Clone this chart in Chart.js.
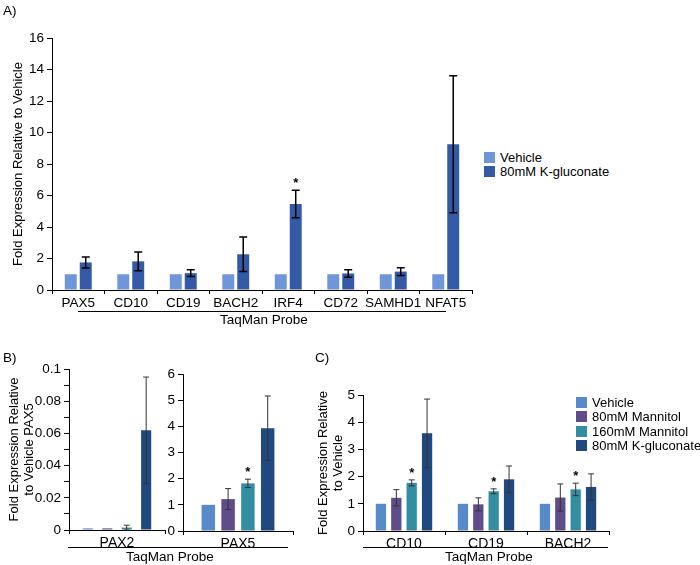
<!DOCTYPE html>
<html>
<head>
<meta charset="utf-8">
<script src="https://cdn.jsdelivr.net/npm/chart.js@4"></script>
<style>
  body { margin:0; background:#fff; font-family:'Liberation Sans', Arial, sans-serif; color:#000; }
  #wrap { position:relative; width:700px; height:565px; overflow:hidden; }
  canvas { position:absolute; }
  .txt { position:absolute; font-size:13.5px; line-height:14px; white-space:nowrap; }
  .rule { position:absolute; height:0; border-top:1px solid #000; }
  .leg { position:absolute; font-size:13px; white-space:nowrap; }
  .leg div { display:flex; align-items:center; height:14.5px; }
  .leg span.sw { display:inline-block; width:11px; height:11px; margin-right:5px; flex:none; }
</style>
</head>
<body>
<div id="wrap">
  <canvas id="chartA" width="480" height="330" style="left:0;top:0"></canvas>
  <canvas id="chartB1" width="170" height="225" style="left:0;top:340px"></canvas>
  <canvas id="chartB2" width="140" height="225" style="left:160px;top:340px"></canvas>
  <canvas id="chartC" width="315" height="225" style="left:300px;top:340px"></canvas>

  <div class="txt" style="left:3px;top:4px">A)</div>
  <div class="txt" style="left:3px;top:351px">B)</div>
  <div class="txt" style="left:315px;top:351px">C)</div>

  <div class="rule" style="left:78px;top:311px;width:368px"></div>
  <div class="txt" style="left:220px;top:313px">TaqMan Probe</div>
  <div class="rule" style="left:68px;top:547px;width:220px"></div>
  <div class="txt" style="left:126px;top:550px">TaqMan Probe</div>
  <div class="rule" style="left:363px;top:547px;width:245px"></div>
  <div class="txt" style="left:445px;top:550px">TaqMan Probe</div>

  <div class="leg" id="legA" style="left:484px;top:150px"></div>
  <div class="leg" id="legC" style="left:576px;top:395px"></div>
</div>
<script>
// panel A
const probesA = ['PAX5', 'CD10', 'CD19', 'BACH2', 'IRF4', 'CD72', 'SAMHD1', 'NFAT5'];
const vehicleA = [1, 1, 1, 1, 1, 1, 1, 1];
const kglucA = [1.75, 1.82, 1.07, 2.27, 5.46, 1.05, 1.17, 9.25];
const kglucErrA = [0.35, 0.6, 0.21, 1.1, 0.87, 0.24, 0.25, 4.35];
const kglucStarA = [0, 0, 0, 0, 1, 0, 0, 0];

// panel B (PAX2 and PAX5 on separate axes)
const probesB1 = ['PAX2'];
const probesB2 = ['PAX5'];
const vehicleB = [0.001, 1.0];
const man80B = [0.001, 1.22];
const man80ErrB = [0, 0.4];
const man160B = [0.0015, 1.82];
const man160ErrB = [0.0015, 0.16];
const man160StarB = [0, 1];
const kglucB = [0.062, 3.93];
const kglucErrB = [0.033, 1.23];

// panel C
const probesC = ['CD10', 'CD19', 'BACH2'];
const vehicleC = [1, 1, 1];
const man80C = [1.22, 0.98, 1.23];
const man80ErrC = [0.3, 0.24, 0.5];
const man160C = [1.77, 1.46, 1.53];
const man160ErrC = [0.11, 0.09, 0.23];
const man160StarC = [1, 1, 1];
const kglucC = [3.59, 1.9, 1.62];
const kglucErrC = [1.26, 0.49, 0.48];

const namesA = ['Vehicle', '80mM K-gluconate'];
const colorsA = ['#6e96d8', '#3459a5'];
const namesC = ['Vehicle', '80mM Mannitol', '160mM Mannitol', '80mM K-gluconate'];
const colorsC = ['#5889c9', '#5f4c88', '#338ea1', '#20497f'];

Chart.defaults.font.family = "'Liberation Sans', Arial, sans-serif";
Chart.defaults.color = '#000';

// draws error bars + significance stars from dataset.errors / dataset.stars
const errorBars = {
  id: 'errorBars',
  afterDatasetsDraw(chart, args, opts) {
    const ctx = chart.ctx;
    const y = chart.scales.y;
    chart.data.datasets.forEach((ds, i) => {
      if (!ds.errors) return;
      chart.getDatasetMeta(i).data.forEach((bar, j) => {
        const v = ds.data[j], e = ds.errors[j];
        if (!e) return;
        const top = y.getPixelForValue(v + e);
        const bot = y.getPixelForValue(v - e);
        ctx.save();
        ctx.strokeStyle = opts.color;
        ctx.lineWidth = opts.width;
        ctx.beginPath();
        ctx.moveTo(bar.x, top); ctx.lineTo(bar.x, bot);
        ctx.moveTo(bar.x - opts.cap, top); ctx.lineTo(bar.x + opts.cap, top);
        ctx.moveTo(bar.x - opts.cap, bot); ctx.lineTo(bar.x + opts.cap, bot);
        ctx.stroke();
        if (ds.stars && ds.stars[j]) {
          ctx.fillStyle = '#000';
          ctx.font = "bold 13px 'Liberation Sans', Arial, sans-serif";
          ctx.textAlign = 'center';
          ctx.textBaseline = 'alphabetic';
          ctx.fillText('*', bar.x, top - 3);
        }
        ctx.restore();
      });
    });
  }
};

function fmt(v) { return Number(v.toFixed(2)).toString(); }

function barChart(id, labels, datasets, cfg) {
  return new Chart(document.getElementById(id), {
    type: 'bar',
    data: { labels: labels, datasets: datasets },
    options: {
      responsive: false,
      animation: false,
      layout: { padding: cfg.pad },
      datasets: { bar: { categoryPercentage: cfg.cat, barPercentage: cfg.bar, borderWidth: 0 } },
      plugins: {
        legend: { display: false },
        tooltip: { enabled: false },
        errorBars: cfg.err
      },
      scales: {
        x: {
          grid: { drawOnChartArea: false, color: '#000', tickLength: 4 },
          border: { color: '#000' },
          ticks: { color: '#000', font: { size: cfg.xfs || 13.5 }, padding: 1, maxRotation: 0, minRotation: 0, autoSkip: false },
          afterFit: s => { s.height = cfg.xh; }
        },
        y: {
          min: 0, max: cfg.max,
          ticks: {
            stepSize: cfg.step, autoSkip: false, color: '#000', font: { size: 13.5 }, padding: 3,
            callback: v => (cfg.every && Math.round(v / cfg.step) % cfg.every) ? '' : fmt(v)
          },
          grid: { drawOnChartArea: false, color: '#000', tickLength: 5 },
          border: { color: '#000' },
          title: {
            display: true, text: cfg.title, color: '#000',
            font: { size: 13, lineHeight: 1.15 },
            padding: { top: cfg.tpad, bottom: 0 }
          },
          afterFit: s => { s.width = cfg.yw; }
        }
      }
    },
    plugins: [errorBars]
  });
}

barChart('chartA', probesA, [
  { label: namesA[0], data: vehicleA, backgroundColor: colorsA[0] },
  { label: namesA[1], data: kglucA, errors: kglucErrA, stars: kglucStarA, backgroundColor: colorsA[1] }
], {
  pad: { top: 38, right: 8, left: 0, bottom: 0 }, cat: 0.57, bar: 0.8, xh: 40, yw: 52,
  max: 16, step: 2, title: 'Fold Expression Relative to Vehicle', tpad: 11,
  err: { color: '#000', width: 1.5, cap: 4 }
});

const dsB = (idx) => [
  { label: namesC[0], data: [vehicleB[idx]], backgroundColor: colorsC[0] },
  { label: namesC[1], data: [man80B[idx]], errors: [man80ErrB[idx]], backgroundColor: colorsC[1] },
  { label: namesC[2], data: [man160B[idx]], errors: [man160ErrB[idx]], stars: [man160StarB[idx]], backgroundColor: colorsC[2] },
  { label: namesC[3], data: [kglucB[idx]], errors: [kglucErrB[idx]], backgroundColor: colorsC[3] }
];

barChart('chartB1', probesB1, dsB(0), {
  pad: { top: 29, right: 5, left: 0, bottom: 0 }, cat: 0.81, bar: 0.52, xh: 35, yw: 69,
  max: 0.1, step: 0.01, every: 2, title: ['Fold Expression Relative', 'to Vehicle PAX5'], tpad: 7,
  err: { color: '#333', width: 1, cap: 3 }, xfs: 14
});

barChart('chartB2', probesB2, dsB(1), {
  pad: { top: 34, right: 7, left: 0, bottom: 0 }, cat: 0.72, bar: 0.68, xh: 34, yw: 23,
  max: 6, step: 1, title: '', tpad: 0,
  err: { color: '#333', width: 1, cap: 3 }, xfs: 14
});

barChart('chartC', probesC, [
  { label: namesC[0], data: vehicleC, backgroundColor: colorsC[0] },
  { label: namesC[1], data: man80C, errors: man80ErrC, backgroundColor: colorsC[1] },
  { label: namesC[2], data: man160C, errors: man160ErrC, stars: man160StarC, backgroundColor: colorsC[2] },
  { label: namesC[3], data: kglucC, errors: kglucErrC, backgroundColor: colorsC[3] }
], {
  pad: { top: 55, right: 6, left: 0, bottom: 0 }, cat: 0.75, bar: 0.67, xh: 34, yw: 63,
  max: 5, step: 1, title: ['Fold Expression Relative', 'to Vehicle'], tpad: 16,
  err: { color: '#333', width: 1, cap: 3 }, xfs: 14
});

function legend(id, names, colors) {
  const el = document.getElementById(id);
  names.forEach((n, i) => {
    const row = document.createElement('div');
    row.innerHTML = '<span class="sw" style="background:' + colors[i] + '"></span>' + n;
    el.appendChild(row);
  });
}
legend('legA', namesA, colorsA);
legend('legC', namesC, colorsC);
</script>
</body>
</html>
